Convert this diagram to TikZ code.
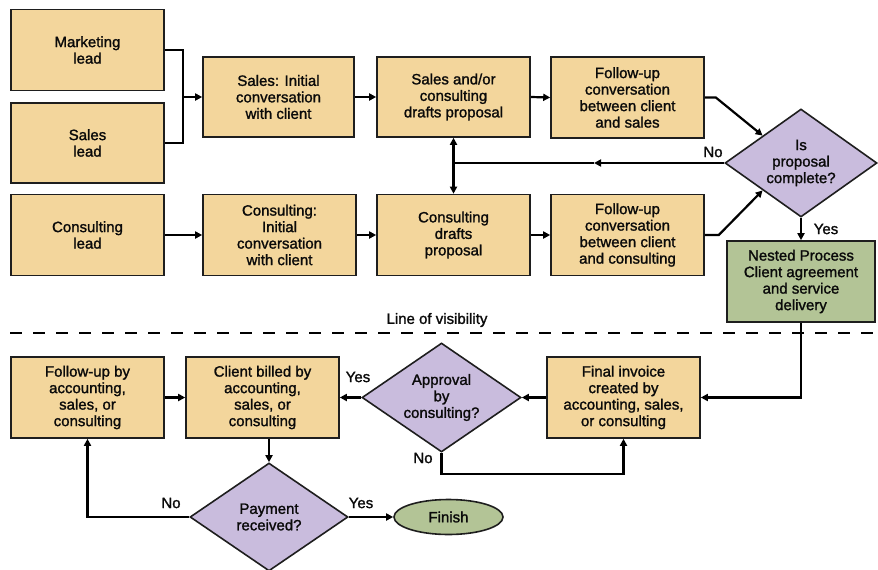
\documentclass[tikz,border=0pt]{standalone}
\usepackage{fontspec}
\setmainfont{Liberation Sans}
\newfontfamily\heavyfont{Liberation Sans}[FakeBold=1.4]
\usetikzlibrary{shapes.geometric,arrows.meta,calc}
\definecolor{tanfill}{RGB}{243,214,156}
\definecolor{purplefill}{RGB}{201,188,221}
\definecolor{greenfill}{RGB}{179,196,150}
\definecolor{bord}{RGB}{30,30,30}
\definecolor{txt}{RGB}{10,10,10}
\begin{document}
\begin{tikzpicture}[x=1pt,y=-1pt,
  every node/.style={font=\heavyfont\fontsize{15}{16.5}\selectfont, text=txt},
  box/.style={draw=bord, fill=tanfill, line width=1.6pt, minimum width=153pt, minimum height=81pt, inner sep=0pt, align=center},
  nestbox/.style={box, fill=greenfill, minimum width=148pt},
  decision/.style={diamond, draw=bord, fill=purplefill, line width=1.6pt, inner sep=0pt, shape aspect=1.45, align=center},
  endnode/.style={ellipse, draw=bord, fill=greenfill, line width=1.6pt, minimum width=109pt, minimum height=35pt, inner sep=0pt},
  conn/.style={draw=black, line width=2.2pt},
  arr/.style={conn, -{Triangle[length=7pt,width=7pt]}},
  darr/.style={conn, {Triangle[length=7pt,width=7pt]}-{Triangle[length=7pt,width=7pt]}},
  lbl/.style={inner sep=0pt}
]
\useasboundingbox (0,0) rectangle (878,570);

% top section
\node[box] (ml) at (87.5,50) {Marketing\\lead};
\node[box, minimum height=80pt] (sl) at (87.5,143) {Sales\\lead};
\node[box] (cl) at (87.5,235) {Consulting\\lead};
\node[box, minimum width=151pt, minimum height=80pt] (si) at (278.5,97) {Sales: Initial\\conversation\\with client};
\node[box, minimum height=80pt] (sd) at (453.5,97) {Sales and/or\\consulting\\drafts proposal};
\node[box] (fs) at (627.5,97.5) {Follow-up\\conversation\\between client\\and sales};
\node[box] (ci) at (279.5,235) {Consulting:\\Initial\\conversation\\with client};
\node[box] (cd) at (453.5,235) {Consulting\\drafts\\proposal};
\node[box] (fc) at (627.5,235) {Follow-up\\conversation\\between client\\and consulting};
\node[decision, minimum width=152pt, minimum height=108pt] (isd) at (801,163) {Is\\proposal\\complete?};
\node[nestbox] (np) at (801,281.5) {Nested Process\\Client agreement\\and service\\delivery};

% line of visibility
\coordinate (lvA) at (10,333);
\coordinate (lvB) at (878,333);
\draw[line width=2.6pt, dash pattern=on 12pt off 11pt] (lvA) -- (lvB);
\node[lbl] (lv) at (437,320) {Line of visibility};

% bottom section
\node[box] (fa) at (87.5,397.5) {Follow-up by\\accounting,\\sales, or\\consulting};
\node[box] (cb) at (262.5,397.5) {Client billed by\\accounting,\\sales, or\\consulting};
\node[decision, minimum width=159pt, minimum height=109pt] (ap) at (441.5,397.5) {Approval\\by\\consulting?};
\node[box] (fi) at (623.5,397.5) {Final invoice\\created by\\accounting, sales,\\or consulting};
\node[decision, minimum width=158pt, minimum height=108pt] (pr) at (269,517) {Payment\\received?};
\node[endnode] (fin) at (448.5,517) {Finish};

% top connectors
\coordinate (j1) at (183,97);
\draw[conn] (ml.east) -| (j1) |- (sl.east);
\draw[arr] (j1) -- (si.west);
\draw[arr] (si.east) -- (sd.west);
\draw[arr] (sd.east) -- (fs.west);
\draw[arr] (cl.east) -- (ci.west);
\draw[arr] (ci.east) -- (cd.west);
\draw[arr] (cd.east) -- (fc.west);
\coordinate (k1) at ($(fs.east)+(11,0)$);
\draw[arr] (fs.east) -- (k1) -- (isd.north west);
\coordinate (k2) at ($(fc.east)+(14,0)$);
\draw[arr] (fc.east) -- (k2) -- (isd.south west);
\coordinate (nomid) at (594,163);
\coordinate (jn) at (sd.south |- isd.west);
\draw[arr] (isd.west) -- (nomid);
\draw[conn] (nomid) -- (jn);
\draw[darr] (sd.south) -- (cd.north);
\node[lbl] (no1) at (713,152) {No};
\draw[arr] (isd.south) -- (np.north);
\node[lbl] (yes1) at (826,229) {Yes};

% bottom connectors
\coordinate (k3) at (np.south |- fi.east);
\draw[arr] (np.south) -- (k3) -- (fi.east);
\draw[arr] (fi.west) -- (ap.east);
\draw[arr] (ap.west) -- (cb.east);
\node[lbl] (yes2) at (358,377) {Yes};
\coordinate (k4) at (ap.south |- 0,474);
\coordinate (k5) at (fi.south |- 0,474);
\draw[arr] (ap.south) -- (k4) -- (k5) -- (fi.south);
\node[lbl] (no2) at (423,458) {No};
\draw[arr] (fa.east) -- (cb.west);
\coordinate (k7) at (pr.north |- cb.south);
\draw[arr] (k7) -- (pr.north);
\coordinate (k6) at (fa.south |- pr.west);
\draw[arr] (pr.west) -- (k6) -- (fa.south);
\node[lbl] (no3) at (171,503) {No};
\draw[arr] (pr.east) -- (fin.west);
\node[lbl] (yes3) at (361,503) {Yes};
\end{tikzpicture}
\end{document}
